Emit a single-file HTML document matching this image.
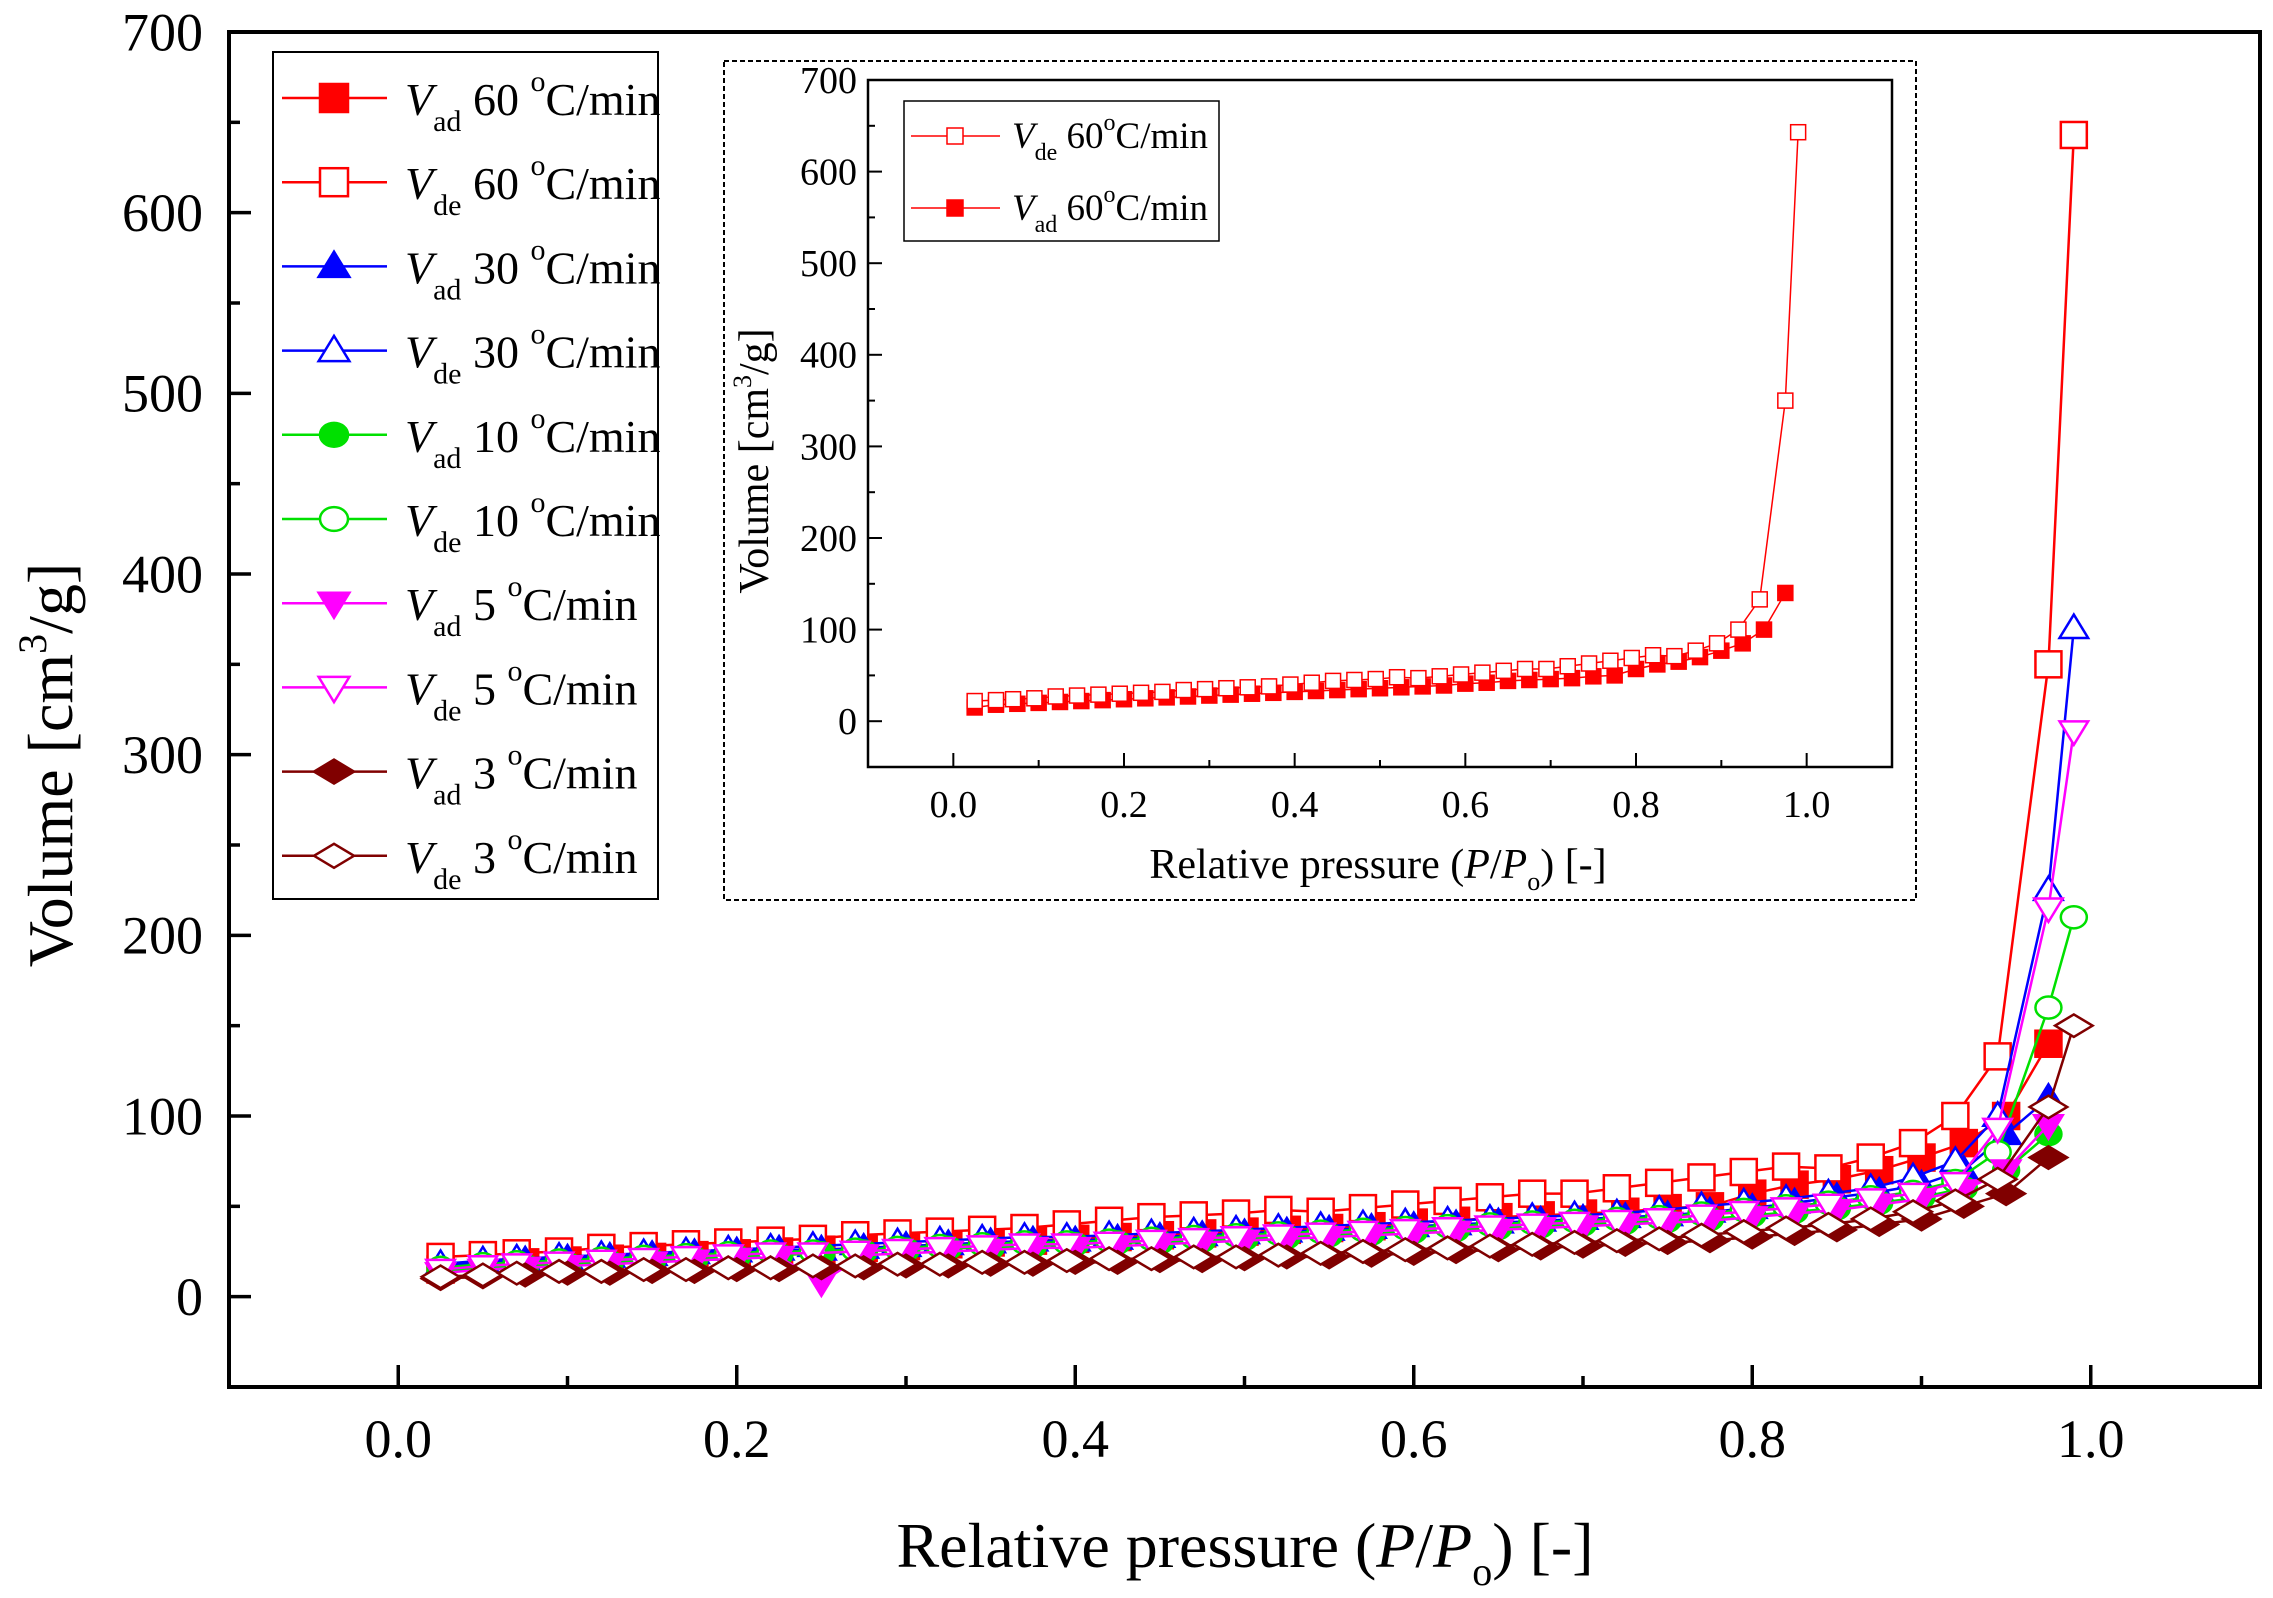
<!DOCTYPE html>
<html><head><meta charset="utf-8"><style>
html,body{margin:0;padding:0;background:#fff}
svg{display:block;font-family:"Liberation Serif",serif}
</style></head><body>
<svg id="chart" width="2273" height="1598" viewBox="0 0 2273 1598" xmlns="http://www.w3.org/2000/svg">
<g id="main"></g>
<g id="inset"></g>
</svg>
<script>
const xAd=[0.025,0.05,0.075,0.1,0.125,0.15,0.175,0.2,0.225,0.25,0.275,0.3,0.325,0.35,0.375,0.4,0.425,0.45,0.475,0.5,0.525,0.55,0.575,0.6,0.625,0.65,0.675,0.7,0.725,0.75,0.775,0.8,0.825,0.85,0.875,0.9,0.925,0.95,0.975];
const xDe=[0.025,0.05,0.07,0.095,0.12,0.145,0.17,0.195,0.22,0.245,0.27,0.295,0.32,0.345,0.37,0.395,0.42,0.445,0.47,0.495,0.52,0.545,0.57,0.595,0.62,0.645,0.67,0.695,0.72,0.745,0.77,0.795,0.82,0.845,0.87,0.895,0.92,0.945,0.975,0.99];
const ad60=[15,18,19,20,21,22,23,24,25,26,27,28,29,30,31,32,33,34,35,36,37,38,39,41,42,44,45,46,47,49,50,57,62,65,70,77,85,100,140];
const de60=[22,23,24,25,27,28,29,30,31,32,34,35,36,37,38,40,42,44,45,46,48,47,49,51,53,55,57,57,60,63,66,69,72,71,77,85,100,133,350,643];
const ad30=[17,19,20,21,22,23,24,25,26,26,27,28,29,30,31,31,32,33,34,35,36,37,38,39,40,41,42,43,44,45,47,49,52,55,58,62,70,90,110];
const de30=[18,20,21,22,23,24,25,26,27,28,29,30,31,32,33,33,34,35,36,37,38,39,40,41,42,43,44,45,46,48,50,52,54,57,60,66,75,100,225,370];
const ad10=[14,16,17,18,19,20,21,22,23,24,25,26,27,27,28,29,30,30,31,32,33,34,35,36,37,38,39,40,41,42,43,45,47,49,52,55,60,70,90];
const de10=[16,18,19,20,21,22,23,24,25,25,26,27,28,29,30,30,31,32,33,34,35,36,37,38,39,40,41,42,43,44,46,48,50,52,55,58,64,80,160,210];
const ad5=[13,15,16,17,18,19,20,21,22,8,23,24,25,26,27,27,28,29,30,31,32,33,34,35,36,37,38,39,40,41,42,44,46,48,51,54,59,70,95];
const de5=[15,17,18,19,20,21,22,23,24,24,25,26,27,28,29,29,30,31,32,33,34,35,36,37,38,39,40,41,42,43,45,47,49,51,54,57,63,93,215,313];
const ad3=[10,11,12,13,13,14,14,15,15,16,16,17,17,18,18,19,19,20,20,21,22,22,23,24,25,26,27,28,29,30,31,33,35,37,40,43,50,57,77];
const de3=[11,12,13,14,14,15,15,16,16,17,17,18,18,19,19,20,21,21,22,22,23,24,25,26,27,28,29,30,31,32,34,36,38,40,43,47,53,65,105,150];
const xTicks=["0.0","0.2","0.4","0.6","0.8","1.0"];
const yTicks=["0","100","200","300","400","500","600","700"];

const NS="http://www.w3.org/2000/svg";
function mk(parent,tag,attrs){const e=document.createElementNS(NS,tag);for(const k in attrs)e.setAttribute(k,attrs[k]);parent.appendChild(e);return e;}

function marker(g,shape,cx,cy,s,color,filled,sw){
  const fill=filled?color:"#fff";let e;
  const h=s/2;
  if(shape==="sq"){e=mk(g,"rect",{x:cx-h,y:cy-h,width:s,height:s,fill:fill,stroke:color,"stroke-width":sw});}
  else if(shape==="tu"){e=mk(g,"polygon",{points:`${cx},${cy-h*1.05} ${cx-h*1.1},${cy+h*0.75} ${cx+h*1.1},${cy+h*0.75}`,fill:fill,stroke:color,"stroke-width":sw});}
  else if(shape==="td"){e=mk(g,"polygon",{points:`${cx},${cy+h*1.05} ${cx-h*1.1},${cy-h*0.75} ${cx+h*1.1},${cy-h*0.75}`,fill:fill,stroke:color,"stroke-width":sw});}
  else if(shape==="ci"){e=mk(g,"ellipse",{cx:cx,cy:cy,rx:h,ry:h*0.85,fill:fill,stroke:color,"stroke-width":sw});}
  else {e=mk(g,"polygon",{points:`${cx},${cy-h*0.75} ${cx+h*1.25},${cy} ${cx},${cy+h*0.75} ${cx-h*1.25},${cy}`,fill:fill,stroke:color,"stroke-width":sw});}
  return e;
}

function axes(g,L,R,T,B,xmin,xmax,ymin,ymax,o){
  const X=v=>L+(v-xmin)/(xmax-xmin)*(R-L);
  const Y=v=>B-(v-ymin)/(ymax-ymin)*(B-T);
  const fr=mk(g,"rect",{x:L,y:T,width:R-L,height:B-T,fill:"none",stroke:"#000","stroke-width":o.aw});
  
  
  for(let i=0;i<=12;i++){const v=i*0.1-0.1; if(v<-0.001||v>1.001)continue;const major=(i%2===1);
    const t=mk(g,"line",{x1:X(v),x2:X(v),y1:B,y2:B-(major?o.tl:o.tl/2),stroke:"#000","stroke-width":o.tw});
    
    }
  xTicks.forEach(s=>{const t=mk(g,"text",{x:X(parseFloat(s)),y:o.xly,"font-size":o.fs,"text-anchor":"middle"});t.textContent=s;
    
    });
  for(let v=-50;v<=700;v+=50){if(v<ymin+1||v>ymax-1)continue;const major=(v%100===0);
    const t=mk(g,"line",{x1:L,x2:L+(major?o.tl:o.tl/2),y1:Y(v),y2:Y(v),stroke:"#000","stroke-width":o.tw});
    
    }
  yTicks.forEach(s=>{const t=mk(g,"text",{x:o.ylx,y:Y(parseFloat(s))+o.fs*0.34,"font-size":o.fs,"text-anchor":"end"});t.textContent=s;
    
    });
  return {X,Y};
}

function series(g,X,Y,xs,ys,shape,color,filled,s,lw,name){
  const sg=mk(g,"g",{});
  
  
  const pts=xs.map((x,i)=>X(x)+","+Y(ys[i])).join(" ");
  mk(sg,"polyline",{points:pts,fill:"none",stroke:color,"stroke-width":lw});
  xs.forEach((x,i)=>{const m=marker(sg,shape,X(x),Y(ys[i]),s,color,filled,lw);
    
    });
}

// MAIN
const mg=document.getElementById("main");
const A=axes(mg,229,2260,32,1387,-0.1,1.1,-50,700,{aw:4,tw:3.5,tl:22,fs:54,xly:1457,ylx:203,pre:"main-"});
const S=[
 [xAd,ad60,"sq","#ff0000",true,"series-vad-60"],
 [xDe,de60,"sq","#ff0000",false,"series-vde-60"],
 [xAd,ad30,"tu","#0000ff",true,"series-vad-30"],
 [xDe,de30,"tu","#0000ff",false,"series-vde-30"],
 [xAd,ad10,"ci","#00e000",true,"series-vad-10"],
 [xDe,de10,"ci","#00e000",false,"series-vde-10"],
 [xAd,ad5,"td","#ff00ff",true,"series-vad-5"],
 [xDe,de5,"td","#ff00ff",false,"series-vde-5"],
 [xAd,ad3,"di","#800000",true,"series-vad-3"],
 [xDe,de3,"di","#800000",false,"series-vde-3"]];
S.forEach(s=>series(mg,A.X,A.Y,s[0],s[1],s[2],s[3],s[4],s[2]==="di"?30:26,2.5,s[5]));
let t=mk(mg,"text",{x:1245,y:1567,"font-size":64,"text-anchor":"middle"});
t.innerHTML='Relative pressure (<tspan font-style="italic">P</tspan>/<tspan font-style="italic">P</tspan><tspan font-size="40" dy="18">o</tspan><tspan dy="-18">) [-]</tspan>';


t=mk(mg,"text",{x:0,y:0,"font-size":64,"text-anchor":"middle",transform:"translate(72,765) rotate(-90)"});
t.innerHTML='Volume [cm<tspan font-size="40" dy="-26">3</tspan><tspan dy="26">/g]</tspan>';


// legend
const lg=mk(mg,"g",{});


mk(lg,"rect",{x:273,y:52,width:385,height:847,fill:"#fff",stroke:"#000","stroke-width":2});
const labels=[["ad","60"],["de","60"],["ad","30"],["de","30"],["ad","10"],["de","10"],["ad","5"],["de","5"],["ad","3"],["de","3"]];
S.forEach((s,i)=>{const y=98+i*84.2;const eg=mk(lg,"g",{});
  
  
  mk(eg,"line",{x1:282,x2:387,y1:y,y2:y,stroke:s[3],"stroke-width":2.5});
  marker(eg,s[2],334,y,s[2]==="di"?32:28,s[3],s[4],2.5);
  const tx=mk(eg,"text",{x:405,y:y+17,"font-size":46});
  tx.innerHTML=`<tspan font-style="italic">V</tspan><tspan font-size="30" dy="16">${labels[i][0]}</tspan><tspan dy="-16"> ${labels[i][1]} </tspan><tspan font-size="30" dy="-24">o</tspan><tspan dy="24">C/min</tspan>`;
});

// INSET
const ig=document.getElementById("inset");
const db=mk(ig,"rect",{x:724,y:61,width:1192,height:839,fill:"#fff",stroke:"#000","stroke-width":2,"stroke-dasharray":"5,3"});


const B2=axes(ig,868,1892,80,767,-0.1,1.1,-50,700,{aw:2.5,tw:2,tl:14,fs:38,xly:817,ylx:857,pre:"inset-"});
series(ig,B2.X,B2.Y,xAd,ad60,"sq","#ff0000",true,15,1.5,"inset-series-vad-60");
series(ig,B2.X,B2.Y,xDe,de60,"sq","#ff0000",false,15,1.5,"inset-series-vde-60");
t=mk(ig,"text",{x:1378,y:878,"font-size":42,"text-anchor":"middle"});
t.innerHTML='Relative pressure (<tspan font-style="italic">P</tspan>/<tspan font-style="italic">P</tspan><tspan font-size="26" dy="12">o</tspan><tspan dy="-12">) [-]</tspan>';


t=mk(ig,"text",{x:0,y:0,"font-size":42,"text-anchor":"middle",transform:"translate(768,461) rotate(-90)"});
t.innerHTML='Volume [cm<tspan font-size="26" dy="-17">3</tspan><tspan dy="17">/g]</tspan>';


const il=mk(ig,"g",{});


mk(il,"rect",{x:904,y:101,width:315,height:140,fill:"#fff",stroke:"#000","stroke-width":1.5});
[["de",false,136],["ad",true,208]].forEach(e=>{const eg=mk(il,"g",{});
  
  
  mk(eg,"line",{x1:911,x2:1000,y1:e[2],y2:e[2],stroke:"#ff0000","stroke-width":1.5});
  marker(eg,"sq",955,e[2],16,"#ff0000",e[1],1.5);
  const tx=mk(eg,"text",{x:1012,y:e[2]+12,"font-size":37});
  tx.innerHTML=`<tspan font-style="italic">V</tspan><tspan font-size="24" dy="12">${e[0]}</tspan><tspan dy="-12"> 60</tspan><tspan font-size="24" dy="-18">o</tspan><tspan dy="18">C/min</tspan>`;
});
</script>
</body></html>
